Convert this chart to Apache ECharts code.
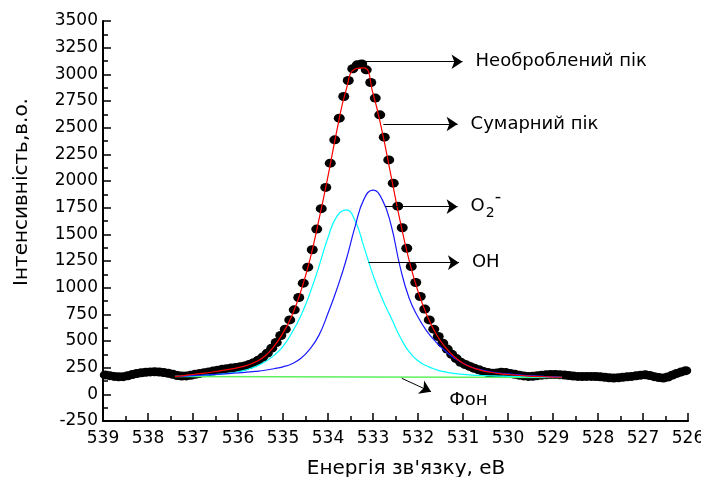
<!DOCTYPE html>
<html>
<head>
<meta charset="utf-8">
<script src="https://cdn.jsdelivr.net/npm/echarts@6/dist/echarts.min.js"></script>
<style>
  html, body { margin: 0; padding: 0; background: #fff; }
  #chart { width: 701px; height: 477px; }
</style>
</head>
<body>
<div id="chart"></div>
<script>
// виміряний спектр: енергія від 538.95 еВ з кроком 0.1 еВ
const rawStart = 538.95;
const rawStep = 0.1;
const rawCounts = [
  182, 175, 168, 164, 166, 174, 185, 195, 202, 206,
  210, 212, 209, 204, 198, 188, 177, 172, 173, 178,
  188, 196, 203, 210, 218, 226, 234, 240, 246, 251,
  258, 266, 280, 297, 320, 349, 386, 433, 486, 552,
  611, 698, 792, 908, 1042, 1192, 1355, 1549, 1741, 1940,
  2167, 2386, 2589, 2792, 2942, 3052, 3089, 3098, 3042, 2923,
  2777, 2620, 2411, 2198, 1980, 1764, 1562, 1370, 1198, 1048,
  917, 799, 698, 611, 542, 480, 424, 375, 335, 300,
  280, 262, 245, 230, 214, 205, 197, 200, 208, 204,
  196, 188, 180, 173, 168, 170, 175, 180, 183, 185,
  185, 183, 181, 177, 172, 168, 167, 168, 168, 167,
  164, 160, 155, 152, 155, 160, 165, 168, 174, 180,
  183, 177, 166, 157, 153, 162, 180, 196, 210, 222
];

// розклад піку
const fitEnergy = [
  537.4, 537.2, 537.0, 536.8, 536.6, 536.4, 536.2, 536.0, 535.8, 535.6,
  535.4, 535.2, 535.0, 534.8, 534.6, 534.4, 534.2, 534.0, 533.8, 533.6,
  533.4, 533.2, 533.0, 532.8, 532.6, 532.4, 532.2, 532.0, 531.8, 531.6,
  531.4, 531.2, 531.0, 530.8, 530.6, 530.4, 530.2, 530.0, 529.8, 529.6,
  529.4, 529.2, 529.0, 528.8
];
const fitSum = [
  168, 176, 186, 196, 207, 220, 234, 250, 272, 305,
  360, 450, 575, 740, 970, 1265, 1640, 2045, 2480, 2850,
  3050, 3060, 2820, 2470, 2050, 1630, 1260, 965, 740, 568,
  445, 355, 292, 252, 225, 207, 195, 186, 179, 173,
  168, 165, 162, 160
];
const fitO2 = [
  168, 171, 175, 179, 184, 189, 195, 201, 208, 216,
  226, 240, 258, 287, 338, 425, 555, 760, 990, 1255,
  1570, 1830, 1915, 1830, 1590, 1200, 905, 725, 590, 490,
  408, 342, 292, 254, 229, 212, 200, 191, 184, 178,
  173, 168, 164, 160
];
const fitOH = [
  168, 170, 173, 177, 182, 189, 198, 212, 232, 262,
  305, 365, 450, 580, 740, 950, 1200, 1470, 1670, 1730,
  1630, 1380, 1120, 900, 720, 540, 400, 315, 265, 232,
  210, 196, 187, 181, 177, 174, 171, 169, 167, 165,
  163, 161, 159, 158
];
const bgEnergy = [537.4, 528.8];
const bgCounts = [168, 158];

// підписи зі стрілками
const noteTexts = ['Необроблений пік', 'Сумарний пік', '{o|O}{s|2}{p|-}', 'OH', 'Фон'];
const noteFrom = [[533.29, 3118], [532.77, 2534], [532.73, 1759], [533.10, 1234], [532.36, 150]];
const noteTo = [[531.01, 3118], [531.12, 2534], [531.12, 1759], [531.09, 1234], [531.71, 24]];

const font = 'DejaVu Sans';

const raw = rawCounts.map((v, i) => [+(rawStart - i * rawStep).toFixed(2), v]);
const pairs = (xs, ys) => xs.map((x, i) => [x, ys[i]]);

const chart = echarts.init(document.getElementById('chart'));

const notes = noteTexts.map((t, i) => [
  { coord: noteFrom[i] },
  { coord: noteTo[i], label: { formatter: t, distance: i === 4 ? 20 : 13 } }
]);

chart.setOption({
  animation: false,
  backgroundColor: '#fff',
  grid: { left: 103, right: 13, top: 21, bottom: 56, containLabel: false, outerBoundsMode: 'none' },
  xAxis: {
    type: 'value',
    min: 526,
    max: 539,
    interval: 1,
    inverse: true,
    name: 'Енергія зв\'язку, еВ',
    nameLocation: 'middle',
    nameGap: 38,
    nameTextStyle: { fontFamily: font, fontSize: 20, color: '#000', padding: [0, 0, 0, 21] },
    axisLine: { onZero: false, lineStyle: { color: '#000', width: 2 } },
    axisTick: { inside: true, length: 8, lineStyle: { color: '#000', width: 1.5 } },
    minorTick: { show: true, splitNumber: 2, length: 5, lineStyle: { color: '#000', width: 1.5 } },
    axisLabel: { fontFamily: font, fontSize: 17, color: '#000', margin: 9, formatter: v => String(v) },
    splitLine: { show: false }
  },
  yAxis: {
    type: 'value',
    min: -250,
    max: 3500,
    interval: 250,
    name: 'Інтенсивність,в.о.',
    nameLocation: 'middle',
    nameRotate: 90,
    nameGap: 71,
    nameTextStyle: { fontFamily: font, fontSize: 20, color: '#000', padding: [0, 0, 0, 58] },
    axisLine: { onZero: false, lineStyle: { color: '#000', width: 2 } },
    axisTick: { inside: true, length: 8, lineStyle: { color: '#000', width: 1.5 } },
    minorTick: { show: true, splitNumber: 2, length: 5, lineStyle: { color: '#000', width: 1.5 } },
    axisLabel: { fontFamily: font, fontSize: 17, color: '#000', margin: 5, formatter: v => String(v) },
    splitLine: { show: false }
  },
  series: [
    {
      name: 'raw',
      type: 'scatter',
      data: raw,
      symbol: 'circle',
      symbolSize: [11, 9],
      itemStyle: { color: '#000', opacity: 1 },
      silent: true
    },
    {
      name: 'background',
      type: 'line',
      data: pairs(bgEnergy, bgCounts),
      showSymbol: false,
      symbol: 'none',
      lineStyle: { color: '#5cf05c', width: 1.5 },
      silent: true,
      markLine: {
        silent: true,
        animation: false,
        symbol: ['none', 'arrow'],
        symbolSize: 11,
        lineStyle: { color: '#000', width: 1, type: 'solid', opacity: 1 },
        label: {
          show: true,
          position: 'end',
          fontFamily: font,
          fontSize: 18,
          color: '#000',
          rich: {
            o: { fontFamily: font, fontSize: 18, lineHeight: 36, color: '#000' },
            s: { fontFamily: font, fontSize: 14, lineHeight: 14, verticalAlign: 'middle', padding: [14, 0, 0, 1], color: '#000' },
            p: { fontFamily: font, fontSize: 18, lineHeight: 10, verticalAlign: 'top', color: '#000' }
          }
        },
        emphasis: { disabled: true },
        data: notes
      }
    },
    {
      name: 'OH',
      type: 'line',
      data: pairs(fitEnergy, fitOH),
      smooth: true,
      showSymbol: false,
      symbol: 'none',
      lineStyle: { color: '#00ffff', width: 1.2 },
      silent: true
    },
    {
      name: 'O2',
      type: 'line',
      data: pairs(fitEnergy, fitO2),
      smooth: true,
      showSymbol: false,
      symbol: 'none',
      lineStyle: { color: '#1a1aff', width: 1.2 },
      silent: true
    },
    {
      name: 'sum',
      type: 'line',
      data: pairs(fitEnergy, fitSum),
      smooth: true,
      showSymbol: false,
      symbol: 'none',
      lineStyle: { color: '#ff0000', width: 1.2 },
      silent: true
    }
  ]
});
</script>
</body>
</html>
